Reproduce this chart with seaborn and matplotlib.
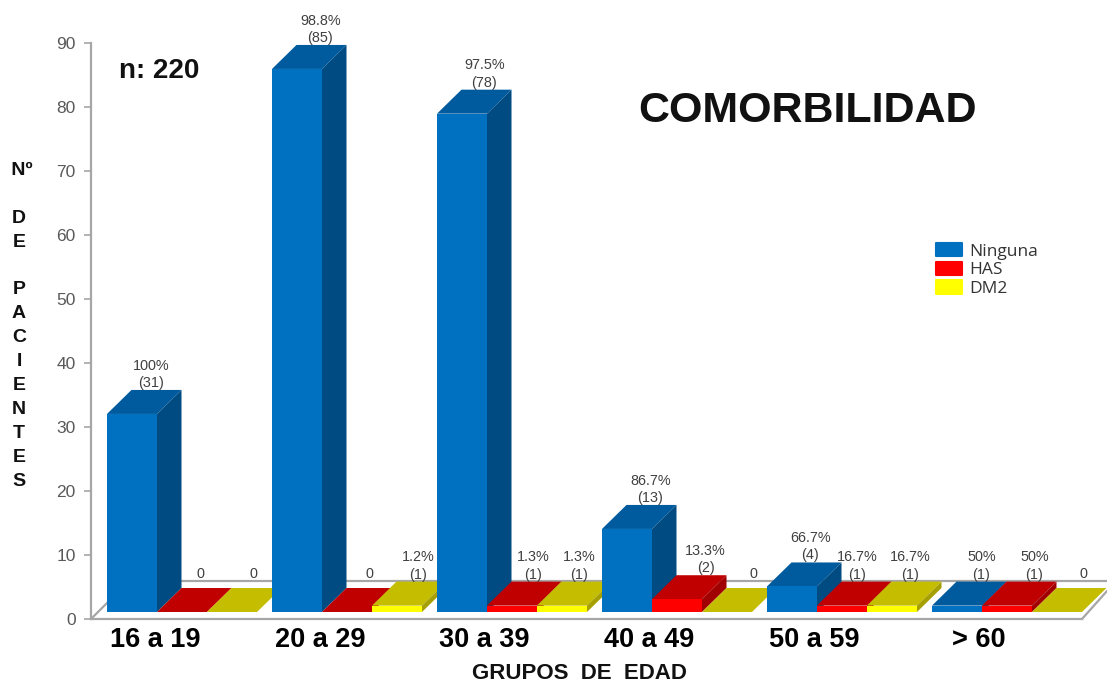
import matplotlib
matplotlib.use("Agg")
import matplotlib.pyplot as plt
from matplotlib.lines import Line2D
from matplotlib.patches import Polygon
import pandas as pd
import seaborn as sns

# Patients per age group and comorbidity
grupos = ["16 a 19", "20 a 29", "30 a 39", "40 a 49", "50 a 59", "> 60"]
ninguna = [31, 85, 78, 13, 4, 1]
has = [0, 0, 1, 2, 1, 1]
dm2 = [0, 1, 1, 0, 1, 0]
pct_ninguna = ["100%", "98.8%", "97.5%", "86.7%", "66.7%", "50%"]
pct_has = ["", "", "1.3%", "13.3%", "16.7%", "50%"]
pct_dm2 = ["", "1.2%", "1.3%", "", "16.7%", ""]
series_names = ["Ninguna", "HAS", "DM2"]

# Colours per series: front, top and side faces
front_colors = ["#0070C0", "#FF0000", "#FFFF00"]
top_colors = ["#005A9E", "#C00000", "#C4BD00"]
side_colors = ["#004B82", "#A00000", "#A5A000"]

# Horizontal label nudges in pixels, one row per series
label_nudge = [
    [-5, -1, -2, -1, -6, 0],
    [-6, -2, -3, 4, -9, 3],
    [-3, -3, -7, 2, -6, 2],
]

FIG_W, FIG_H = 1107, 683
DEPTH_X, DEPTH_Y = 24.5, 24.0  # extrusion of the bars, in pixels
PX = 0.72  # points per pixel at 100 dpi
GREY = "#A6A6A6"
TICK_TEXT = "#595959"

sns.set_theme(style="white")
plt.rcParams["font.family"] = ["Liberation Sans", "DejaVu Sans"]


def axes_rect(left, right, top, bottom):
    return [left / FIG_W, 1 - bottom / FIG_H, (right - left) / FIG_W, (bottom - top) / FIG_H]


def fig_xy(x, y):
    return x / FIG_W, 1 - y / FIG_H


fig = plt.figure(figsize=(FIG_W / 100, FIG_H / 100), dpi=100, facecolor="white")

# Wall axes: carries the value scale, category labels and axis titles
wall = fig.add_axes(axes_rect(91, 1082, 43, 619))
wall.patch.set_alpha(0)
wall.set_ylim(0, 90)
wall.set_xlim(-0.388, 5.625)
wall.set_yticks(range(0, 91, 10))
wall.set_xticks(range(len(grupos)))
wall.set_xticklabels(grupos, fontsize=19.5, fontweight="bold", color="black")
wall.tick_params(axis="x", length=0, pad=6)
wall.tick_params(axis="y", length=5, width=1.2, color=GREY, labelsize=12.5, labelcolor=TICK_TEXT, pad=6, left=True)
sns.despine(ax=wall, top=True, right=True)
for side in ("left", "bottom"):
    wall.spines[side].set_color(GREY)
    wall.spines[side].set_linewidth(1.6)
wall.set_xlabel("GRUPOS  DE  EDAD", fontsize=16, fontweight="bold", color="#111111")
wall.xaxis.set_label_coords(0.493, -0.077)
wall.set_ylabel(
    " Nº\n\nD\nE\n\nP\nA\nC\nI\nE\nN\nT\nE\nS",
    rotation=0, fontsize=14, fontweight="bold", color="#111111",
    ha="center", va="center", linespacing=1.53,
)
wall.yaxis.set_label_coords(-0.0726, 0.509)

# Floor outline behind the bars
floor = [
    ([91, 129], [619, 581]),
    ([129, 1107], [581, 581]),
    ([1082, 1107], [619, 591]),
]
for xs, ys in floor:
    pts = [fig_xy(x, y) for x, y in zip(xs, ys)]
    fig.add_artist(Line2D([p[0] for p in pts], [p[1] for p in pts], color=GREY, lw=1.6, zorder=-1))

# Bar axes: front plane of the bars, sitting slightly above the wall baseline
ax = fig.add_axes(axes_rect(99.5, 1089.5, 37, 612))
ax.patch.set_alpha(0)
df = pd.DataFrame({
    "grupo": grupos * 3,
    "comorbilidad": sum([[n] * len(grupos) for n in series_names], []),
    "pacientes": ninguna + has + dm2,
})
sns.barplot(
    data=df, x="grupo", y="pacientes", hue="comorbilidad",
    order=grupos, hue_order=series_names, palette=front_colors,
    width=150 / 165, gap=0, saturation=1, ax=ax, errorbar=None,
    edgecolor="none", linewidth=0,
)
ax.set_xlim(-0.5, 5.5)
ax.set_ylim(0, 90)
ax.axis("off")

per_x = 165.0
per_y = 575.0 / 90
dx = DEPTH_X / per_x
dy = DEPTH_Y / per_y

percentages = [pct_ninguna, pct_has, pct_dm2]
for s, container in enumerate(ax.containers):
    for g, bar in enumerate(container):
        x0 = bar.get_x()
        x1 = x0 + bar.get_width()
        h = bar.get_height()
        z = 3 + g * 3 + s * 0.3
        bar.set_zorder(z + 0.2)
        bar.set_clip_on(False)
        ax.add_patch(Polygon([(x0, h), (x1, h), (x1 + dx, h + dy), (x0 + dx, h + dy)],
                             closed=True, facecolor=top_colors[s], edgecolor="none",
                             zorder=z, clip_on=False))
        if h > 0:
            ax.add_patch(Polygon([(x1, 0), (x1 + dx, dy), (x1 + dx, h + dy), (x1, h)],
                                 closed=True, facecolor=side_colors[s], edgecolor="none",
                                 zorder=z + 0.1, clip_on=False))
        pct = percentages[s][g]
        text = f"{pct}\n({int(h)})" if pct else f"{int(h)}"
        lift = 0 if h > 0 else 7
        ax.annotate(
            text, xy=((x0 + x1) / 2, h), xycoords="data",
            xytext=((DEPTH_X + label_nudge[s][g]) * PX, (DEPTH_Y + lift) * PX),
            textcoords="offset points", ha="center", va="bottom",
            fontsize=10.4, color="#404040", linespacing=1.3,
            annotation_clip=False, zorder=60,
        )

# Legend, moved into the empty upper right of the plot
sns.move_legend(
    ax, loc="upper left", bbox_to_anchor=((929 - 99.5) / 990, (612 - 236) / 575),
    title=None, frameon=False, fontsize=12.5, handlelength=1.5, handleheight=0.8,
    labelspacing=0.12, handletextpad=0.4, borderpad=0.4, borderaxespad=0,
)
leg = ax.get_legend()
leg.set_zorder(70)
for t in leg.get_texts():
    t.set_fontfamily("Open Sans")
    t.set_color("#333333")
for p in leg.get_patches():
    p.set_joinstyle("round")
    p.set_edgecolor(p.get_facecolor())
    p.set_linewidth(1.5)

fig.text(*fig_xy(119, 71), "n: 220", fontsize=20, fontweight="bold", color="#111111", va="center")
fig.text(*fig_xy(807, 111), "COMORBILIDAD", fontsize=31, fontweight="bold", color="#111111", ha="center", va="center")

fig.savefig("out.png", dpi=100, facecolor="white")
